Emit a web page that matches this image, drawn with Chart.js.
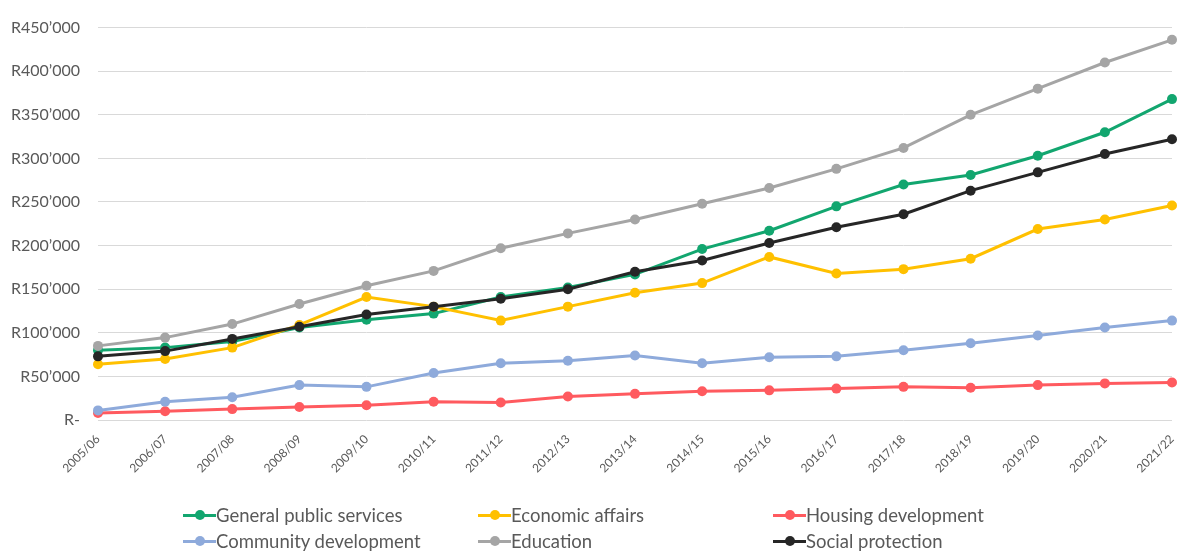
<!DOCTYPE html>
<html>
<head>
<meta charset="utf-8">
<script src="https://cdn.jsdelivr.net/npm/chart.js@4.4.0/dist/chart.umd.min.js"></script>
<style>
  body { margin: 0; background: #fff; font-family: Lato, "Open Sans", sans-serif; }
  #wrap { position: relative; width: 1177px; height: 551px; overflow: hidden; }
  #legend {
    position: absolute; left: 183px; top: 502px;
    display: grid; grid-template-columns: 295px 295px 295px;
  }
  .item { display: flex; align-items: center; height: 26px; font-size: 18.5px; color: #595959; }
  .sym { position: relative; width: 33px; height: 26px; flex: none; }
  .sym .ln { position: absolute; left: 0; right: 0; top: 11.5px; height: 3px; }
  .sym .dt { position: absolute; left: 11.5px; top: 8px; width: 10px; height: 10px; border-radius: 50%; }
</style>
</head>
<body>
<div id="wrap">
  <canvas id="lineChart" width="1177" height="551"></canvas>
  <div id="legend"></div>
</div>
<script>
// Data (Rand, thousands shown in full)
const years = ["2005/06", "2006/07", "2007/08", "2008/09", "2009/10", "2010/11", "2011/12", "2012/13",
  "2013/14", "2014/15", "2015/16", "2016/17", "2017/18", "2018/19", "2019/20", "2020/21", "2021/22"];

const generalPublic = [80000, 83000, 90000, 106000, 115000, 122000, 141000, 152000, 167000, 196000,
  217000, 245000, 270000, 281000, 303000, 330000, 368000];
const economicAffairs = [64000, 70000, 83000, 109000, 141000, 130000, 114000, 130000, 146000, 157000,
  187000, 168000, 173000, 185000, 219000, 230000, 246000];
const housingDev = [8000, 10000, 12500, 15000, 17000, 21000, 20000, 27000, 30000, 33000,
  34000, 36000, 38000, 37000, 40000, 42000, 43000];
const communityDev = [11000, 21000, 26000, 40000, 38000, 54000, 65000, 68000, 74000, 65000,
  72000, 73000, 80000, 88000, 97000, 106000, 114000];
const education = [85000, 94500, 110000, 133000, 154000, 171000, 197000, 214000, 230000, 248000,
  266000, 288000, 312000, 350000, 380000, 410000, 436000];
const socialProtection = [73000, 79000, 93000, 107000, 121000, 130000, 139000, 150000, 170000, 183000,
  203000, 221000, 236000, 263000, 284000, 305000, 322000];

const seriesNames = ["General public services", "Economic affairs", "Housing development",
  "Community development", "Education", "Social protection"];
const seriesData = [generalPublic, economicAffairs, housingDev, communityDev, education, socialProtection];
const seriesColors = ["#12a66f", "#ffc000", "#ff5a5f", "#8eaadb", "#a5a5a5", "#262626"];

const FONT = "Lato, 'Open Sans', sans-serif";
const TEXT = "#595959";

const datasets = seriesNames.map((name, i) => ({
  label: name,
  data: seriesData[i],
  borderColor: seriesColors[i],
  backgroundColor: seriesColors[i],
  borderWidth: 3,
  pointRadius: 5,
  pointBorderWidth: 0,
  pointHoverRadius: 5,
  tension: 0,
  clip: false,
  order: seriesNames.length - i   // later series drawn on top, as in the original
}));

const ctx = document.getElementById("lineChart").getContext("2d");
new Chart(ctx, {
  type: "line",
  data: { labels: years, datasets },
  options: {
    responsive: false,
    animation: false,
    layout: { padding: { top: 17, right: 0, bottom: 61, left: 0 } },
    plugins: { legend: { display: false }, tooltip: { enabled: false } },
    scales: {
      x: {
        grid: { display: false },
        border: { display: false },
        ticks: {
          color: TEXT, font: { family: FONT, size: 12 },
          minRotation: 45, maxRotation: 45, autoSkip: false, padding: 4
        },
        afterFit: s => { s.height = 70; s.paddingRight = 0; s.paddingLeft = 0; }
      },
      y: {
        min: 0, max: 450000,
        grid: { color: "#d9d9d9", lineWidth: 1, drawTicks: false },
        border: { display: false },
        ticks: {
          stepSize: 50000, color: TEXT, padding: 18,
          font: { family: FONT, size: 16 },
          callback: v => v === 0 ? "R-" : "R" + (v / 1000) + "\u2019000"
        },
        afterFit: s => { s.width = 98; }
      }
    }
  }
});

// Legend laid out as a 3-column grid like the original
const legend = document.getElementById("legend");
seriesNames.forEach((name, i) => {
  const item = document.createElement("div");
  item.className = "item";
  item.innerHTML = `
    <span class="sym"><span class="ln" style="background:${seriesColors[i]}"></span><span class="dt" style="background:${seriesColors[i]}"></span></span>
    <span>${name}</span>`;
  legend.appendChild(item);
});
</script>
</body>
</html>
